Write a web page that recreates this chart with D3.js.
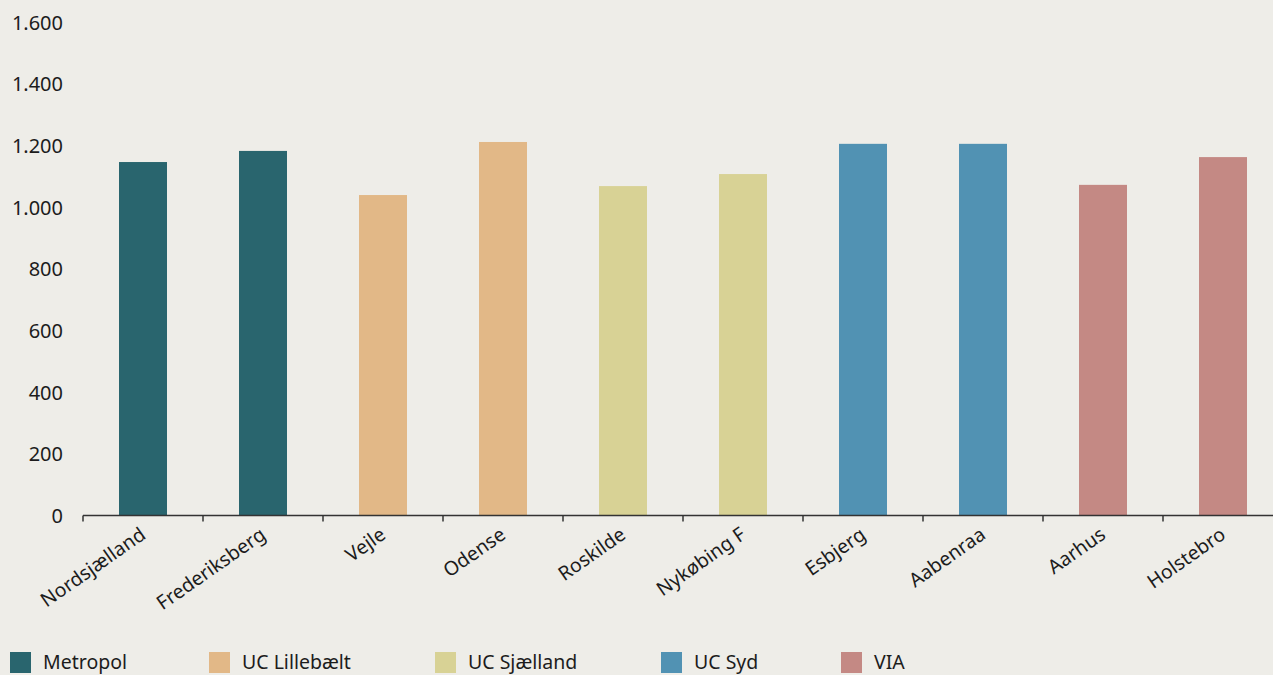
<!DOCTYPE html>
<html>
<head>
<meta charset="utf-8">
<script src="https://cdn.jsdelivr.net/npm/d3@7"></script>
<style>
  html, body { margin: 0; padding: 0; background: #eeede8; }
  svg { display: block; }
  text { font-family: "Noto Sans", "Liberation Sans", sans-serif; fill: #1c1c1c; }
</style>
</head>
<body>
<svg id="chart" width="1273" height="675"></svg>
<script>
const categories = ["Nordsjælland", "Frederiksberg", "Vejle", "Odense", "Roskilde", "Nykøbing F", "Esbjerg", "Aabenraa", "Aarhus", "Holstebro"];
const values = [1146, 1182, 1039, 1211, 1068, 1107, 1205, 1205, 1072, 1162];
const groups = ["Metropol", "Metropol", "UC Lillebælt", "UC Lillebælt", "UC Sjælland", "UC Sjælland", "UC Syd", "UC Syd", "VIA", "VIA"];
const seriesNames = ["Metropol", "UC Lillebælt", "UC Sjælland", "UC Syd", "VIA"];
const seriesColors = ["#29656e", "#e2b887", "#d8d295", "#5192b3", "#c48984"];
const yTicks = [0, 200, 400, 600, 800, 1000, 1200, 1400, 1600];

const svg = d3.select("#chart");
const W = 1273, H = 675;
const x0 = 83, y0 = 515.5, yTop = 22;

const x = d3.scaleBand().domain(categories).range([x0, x0 + 1200]).paddingInner(0.6).paddingOuter(0.3);
const y = d3.scaleLinear().domain([0, 1600]).range([y0, yTop]);
const color = d3.scaleOrdinal().domain(seriesNames).range(seriesColors);

const fmt = v => d3.format(",")(v).replace(/,/g, ".");

// y axis labels
const yAxis = svg.append("g").attr("transform", `translate(63,0)`)
  .call(d3.axisLeft(y).tickValues(yTicks).tickFormat(fmt).tickSize(0).tickPadding(0));
yAxis.select(".domain").remove();
yAxis.selectAll("text").attr("font-size", 20).attr("dy", "0.35em").style("font-family", "'Noto Sans', sans-serif").style("fill", "#1c1c1c");

// bars
svg.append("g").selectAll("rect").data(categories).join("rect")
  .attr("x", d => x(d))
  .attr("width", x.bandwidth())
  .attr("y", (d, i) => y(values[i]))
  .attr("height", (d, i) => y(0) - y(values[i]))
  .attr("fill", (d, i) => color(groups[i]));

// x axis
const xb = d3.scaleBand().domain(categories).range([x0, x0 + 1200]);
const xAxis = svg.append("g").attr("transform", `translate(0,${y0})`)
  .call(d3.axisBottom(xb).tickSize(0).tickFormat(""));
xAxis.select(".domain").attr("stroke", "#333").attr("stroke-width", 1.5).attr("d", `M${x0},0H${W}`);
xAxis.selectAll(".tick").remove();
// boundary ticks
xAxis.selectAll("line.bt").data(categories).join("line")
  .attr("class", "bt")
  .attr("x1", d => xb(d)).attr("x2", d => xb(d))
  .attr("y1", 0).attr("y2", 6)
  .attr("stroke", "#333").attr("stroke-width", 1.5);

// category labels
svg.append("g").selectAll("text").data(categories).join("text")
  .attr("text-anchor", "end")
  .attr("font-size", 19.5)
  .attr("transform", d => `translate(${xb(d) + xb.bandwidth() / 2 + 4},${y0 + 22}) rotate(-35)`)
  .text(d => d);

// legend
const legendX = [10, 209, 435, 661, 841];
const lg = svg.append("g").selectAll("g").data(seriesNames).join("g")
  .attr("transform", (d, i) => `translate(${legendX[i]},652)`);
lg.append("rect").attr("width", 21).attr("height", 21).attr("fill", d => color(d));
lg.append("text").attr("x", 33).attr("y", 10.5).attr("dy", "0.35em").attr("font-size", 19.5).text(d => d);
</script>
</body>
</html>
